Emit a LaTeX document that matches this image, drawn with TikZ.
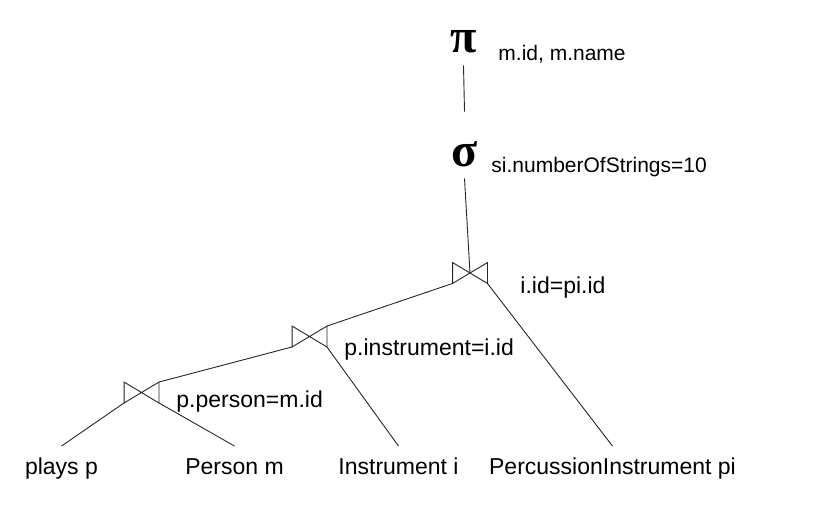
\documentclass[tikz,border=0pt]{standalone}
\usepackage{fontspec}
\setmainfont{Liberation Sans}
\newfontfamily\greekfont{Liberation Serif}

\begin{document}
\begin{tikzpicture}[
    x=1pt, y=-1pt,
    draw=black!85, line width=0.9pt,
    op/.style = {font=\greekfont\bfseries\fontsize{48}{48}\selectfont, inner sep=0pt, anchor=base},
    sub/.style = {font=\fontsize{21}{21}\selectfont, inner sep=0pt, anchor=base west},
    cond/.style = {font=\fontsize{23}{23}\selectfont, inner sep=0pt, anchor=base west},
    rel/.style = {font=\fontsize{23}{23}\selectfont, inner sep=0pt, anchor=base, text height=27.5pt},
    jointie/.style = {minimum width=34pt, minimum height=20pt, inner sep=0pt}
     ]
  \useasboundingbox (0,0) rectangle (829,528);
  % operators
  \node[op, text depth=13pt] (proj) at (463.5,52) {π};
  \node[sub] (projattr) at (498,60) {m.id, m.name};
  \node[op, text height=54pt, text depth=12pt] (sel) at (464.5,166) {σ};
  \node[sub] (selcond) at (491,172) {si.numberOfStrings=10};
  % joins
  \node[jointie] (j1) at (470,273) {};
  \node[jointie] (j2) at (309.5,336.5) {};
  \node[jointie] (j3) at (141.5,392.5) {};
  \node[cond] (c1) at (520,293) {i.id=pi.id};
  \node[cond] (c2) at (344,355) {p.instrument=i.id};
  \node[cond] (c3) at (176,407) {p.person=m.id};
  % relations
  \node[rel] (plays) at (61.5,474) {plays p};
  \node[rel] (person) at (234.5,474) {Person m};
  \node[rel] (instr) at (398.5,474) {Instrument i};
  \node[rel] (perc) at (612.5,474) {PercussionInstrument pi};

  \foreach \j in {j1,j2,j3}
    \draw (\j.north west) -- (\j.south east) -- (\j.north east) -- (\j.south west) -- cycle;
  \draw (proj.south) -- (sel.north);
  \draw (sel.south) -- (j1.center);
  \draw (j1.south west) -- (j2.north east);
  \draw (j1.south east) -- (perc.north);
  \draw (j2.south west) -- (j3.north east);
  \draw (j2.south east) -- (instr.north);
  \draw (j3.south west) -- (plays.north);
  \draw (j3.south east) -- (person.north);
\end{tikzpicture}
\end{document}
